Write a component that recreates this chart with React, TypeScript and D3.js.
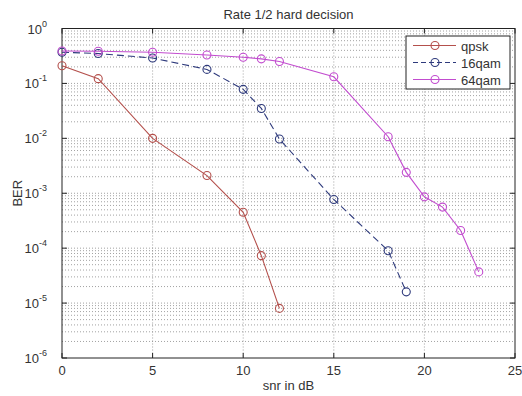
import { useRef, useEffect } from "react"
import * as d3 from "d3"

const WIDTH = 522
const HEIGHT = 396
const MARGIN = { top: 28.5, right: 7, bottom: 38, left: 62 }

const qpskX = [0, 2, 5, 8, 10, 11, 12]
const qpskBer = [0.21, 0.122, 0.01, 0.0021, 0.00045, 0.000073, 0.000008]

const qam16X = [0, 2, 5, 8, 10, 11, 12, 15, 18, 19]
const qam16Ber = [0.37, 0.35, 0.29, 0.18, 0.078, 0.035, 0.0097, 0.00077, 0.00009, 0.000016]

const qam64X = [0, 2, 5, 8, 10, 11, 12, 15, 18, 19, 20, 21, 22, 23]
const qam64Ber = [0.39, 0.385, 0.37, 0.33, 0.3, 0.28, 0.25, 0.132, 0.0107, 0.0024, 0.00086, 0.00056, 0.00021, 0.000037]

const xTicks = [0, 5, 10, 15, 20, 25]
const yExponents = [0, -1, -2, -3, -4, -5, -6]

const series = [
  { name: "qpsk", xs: qpskX, ys: qpskBer, color: "#b4504c", dash: "none" },
  { name: "16qam", xs: qam16X, ys: qam16Ber, color: "#2e3a7c", dash: "7,4" },
  { name: "64qam", xs: qam64X, ys: qam64Ber, color: "#c24ccf", dash: "none" },
]

export default function App() {
  const svgRef = useRef<SVGSVGElement>(null)

  useEffect(() => {
    const svg = svgRef.current
    if (!svg) return
    const root = d3.select(svg)
    root.selectAll("*").remove()

    const x0 = MARGIN.left
    const x1 = WIDTH - MARGIN.right
    const y0 = MARGIN.top
    const y1 = HEIGHT - MARGIN.bottom

    const x = d3.scaleLinear().domain([0, 25]).range([x0, x1])
    const y = d3.scaleLog().domain([1e-6, 1]).range([y1, y0])

    root.append("rect").attr("width", WIDTH).attr("height", HEIGHT).attr("fill", "#fff")

    const grid = root.append("g").attr("stroke", "#8a8a8a").attr("stroke-width", 0.8)
      .attr("stroke-dasharray", "1,2").attr("fill", "none")

    // minor + major horizontal grid
    for (let e = -6; e < 0; e++) {
      for (let m = 1; m <= 9; m++) {
        const v = m * Math.pow(10, e)
        if (v <= 1e-6) continue
        grid.append("line").attr("x1", x0).attr("x2", x1).attr("y1", y(v)).attr("y2", y(v))
      }
    }
    // vertical grid
    xTicks.slice(1, -1).forEach((t) => {
      grid.append("line").attr("x1", x(t)).attr("x2", x(t)).attr("y1", y0).attr("y2", y1)
    })

    // axes box
    root.append("rect")
      .attr("x", x0).attr("y", y0).attr("width", x1 - x0).attr("height", y1 - y0)
      .attr("fill", "none").attr("stroke", "#222").attr("stroke-width", 1)

    const ticks = root.append("g").attr("stroke", "#222").attr("stroke-width", 1)
    xTicks.forEach((t) => {
      ticks.append("line").attr("x1", x(t)).attr("x2", x(t)).attr("y1", y1).attr("y2", y1 - 5)
      ticks.append("line").attr("x1", x(t)).attr("x2", x(t)).attr("y1", y0).attr("y2", y0 + 5)
    })
    yExponents.forEach((e) => {
      const v = Math.pow(10, e)
      ticks.append("line").attr("x1", x0).attr("x2", x0 + 5).attr("y1", y(v)).attr("y2", y(v))
      ticks.append("line").attr("x1", x1).attr("x2", x1 - 5).attr("y1", y(v)).attr("y2", y(v))
    })

    const font = "'Liberation Sans', Arial, sans-serif"

    // x tick labels
    root.append("g").selectAll("text").data(xTicks).join("text")
      .attr("x", (d) => x(d)).attr("y", y1 + 17)
      .attr("text-anchor", "middle").attr("font-family", font).attr("font-size", 13)
      .attr("fill", "#333").text((d) => d)

    // y tick labels, 10 with superscript exponent
    const yl = root.append("g").selectAll("text").data(yExponents).join("text")
      .attr("x", x0 - 15).attr("y", (d) => y(Math.pow(10, d)) + 5)
      .attr("text-anchor", "end").attr("font-family", font).attr("font-size", 13)
      .attr("fill", "#333")
    yl.append("tspan").text("10")
    yl.append("tspan").attr("dy", -7).attr("font-size", 9).text((d) => d)

    // title and axis labels
    root.append("text").attr("x", (x0 + x1) / 2).attr("y", 19).attr("text-anchor", "middle")
      .attr("font-family", font).attr("font-size", 13).attr("fill", "#333")
      .text("Rate 1/2 hard decision")
    root.append("text").attr("x", (x0 + x1) / 2).attr("y", 390).attr("text-anchor", "middle")
      .attr("font-family", font).attr("font-size", 13).attr("fill", "#333")
      .text("snr in dB")
    root.append("text")
      .attr("transform", `translate(22,${(y0 + y1) / 2}) rotate(-90)`)
      .attr("text-anchor", "middle").attr("font-family", font).attr("font-size", 13)
      .attr("fill", "#333").text("BER")

    const line = d3.line<[number, number]>().x((d) => x(d[0])).y((d) => y(d[1]))

    series.forEach((s) => {
      const pts: [number, number][] = s.xs.map((v, i) => [v, s.ys[i]])
      const g = root.append("g")
      g.append("path").attr("d", line(pts)).attr("fill", "none")
        .attr("stroke", s.color).attr("stroke-width", 1.1).attr("stroke-dasharray", s.dash)
      g.selectAll("circle").data(pts).join("circle")
        .attr("cx", (d) => x(d[0])).attr("cy", (d) => y(d[1])).attr("r", 4)
        .attr("fill", "none").attr("stroke", s.color).attr("stroke-width", 1.1)
    })

    // legend
    const lg = root.append("g").attr("transform", "translate(406,36)")
    lg.append("rect").attr("width", 104).attr("height", 53).attr("fill", "#fff")
      .attr("stroke", "#222").attr("stroke-width", 1)
    series.forEach((s, i) => {
      const ly = 9.5 + i * 17
      lg.append("line").attr("x1", 7).attr("x2", 50).attr("y1", ly).attr("y2", ly)
        .attr("stroke", s.color).attr("stroke-width", 1.1).attr("stroke-dasharray", s.dash === "none" ? "none" : "5,3")
      lg.append("circle").attr("cx", 29).attr("cy", ly).attr("r", 4)
        .attr("fill", "none").attr("stroke", s.color).attr("stroke-width", 1.1)
      lg.append("text").attr("x", 55).attr("y", ly + 5).attr("font-family", font)
        .attr("font-size", 13).attr("fill", "#333").text(s.name)
    })
  }, [])

  return (
    <svg
      ref={svgRef}
      width={WIDTH}
      height={HEIGHT}
      viewBox={`0 0 ${WIDTH} ${HEIGHT}`}
      style={{ position: "absolute", left: 0, top: 0, display: "block" }}
    />
  )
}
